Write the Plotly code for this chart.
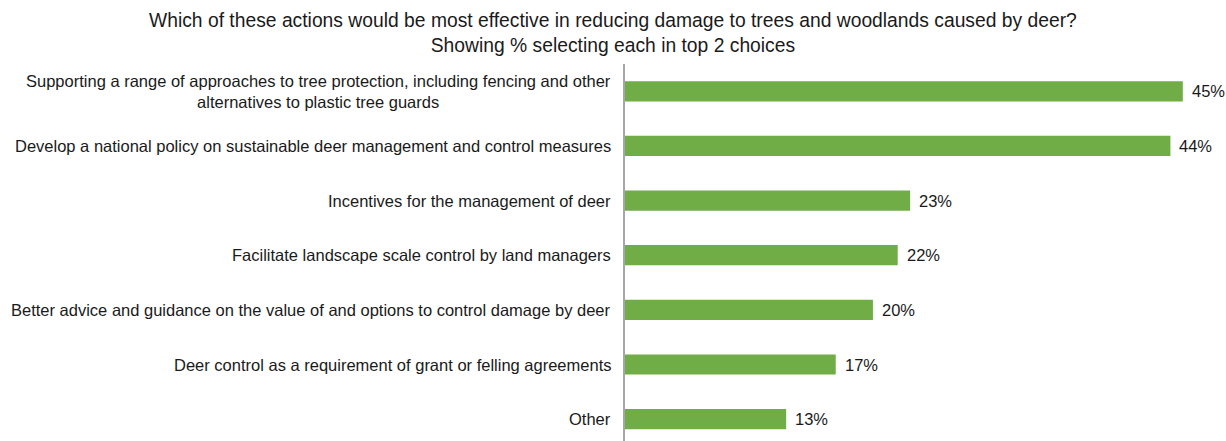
import plotly.graph_objects as go

# Survey responses: share selecting each action in their top 2 choices
actions = [
    "Supporting a range of approaches to tree protection, including fencing and other<br>alternatives to plastic tree guards",
    "Develop a national policy on sustainable deer management and control measures",
    "Incentives for the management of deer",
    "Facilitate landscape scale control by land managers",
    "Better advice and guidance on the value of and options to control damage by deer",
    "Deer control as a requirement of grant or felling agreements",
    "Other",
]
percent = [45, 44, 23, 22, 20, 17, 13]

title_text = ("Which of these actions would be most effective in reducing damage to trees and woodlands caused by deer?"
              "<br>Showing % selecting each in top 2 choices")

FONT = "Liberation Sans, Arial, sans-serif"
TEXT_COLOR = "#1a1a1a"
LABEL_SIZE = 16.5
positions = list(range(len(actions)))

fig = go.Figure(
    go.Bar(
        x=percent,
        y=positions,
        orientation="h",
        width=0.37,
        marker=dict(color="#70AD47", line=dict(width=0)),
        hoverinfo="skip",
    )
)

# Category labels as annotations so multi-line labels are centred
for pos, label in zip(positions, actions):
    fig.add_annotation(
        x=0, xref="paper", y=pos, yref="y",
        text=label, showarrow=False,
        xanchor="right", yanchor="middle", align="center",
        xshift=-12,
        font=dict(family=FONT, size=LABEL_SIZE, color=TEXT_COLOR),
    )

# Value labels just past the end of each bar
for pos, v in zip(positions, percent):
    fig.add_annotation(
        x=v, xref="x", y=pos, yref="y",
        text=f"{v}%", showarrow=False,
        xanchor="left", yanchor="middle", xshift=7,
        font=dict(family=FONT, size=LABEL_SIZE, color=TEXT_COLOR),
    )

# Two-line chart title centred over the full width
fig.add_annotation(
    x=(613 - 625) / 595.2, xref="paper", y=1, yref="paper",
    text=title_text, showarrow=False,
    xanchor="center", yanchor="bottom", align="center", yshift=6,
    font=dict(family=FONT, size=19.3, color=TEXT_COLOR),
)

fig.update_layout(
    width=1226, height=441,
    margin=dict(l=625, r=6, t=64, b=0),
    paper_bgcolor="white", plot_bgcolor="white",
    showlegend=False,
    xaxis=dict(range=[0, 48], showgrid=False, zeroline=False, showticklabels=False, showline=False),
    yaxis=dict(range=[6.4, -0.5], showgrid=False, zeroline=False, showticklabels=False,
               showline=True, linecolor="#A6A6A6", linewidth=1.5),
)

fig.write_html("out.html")
